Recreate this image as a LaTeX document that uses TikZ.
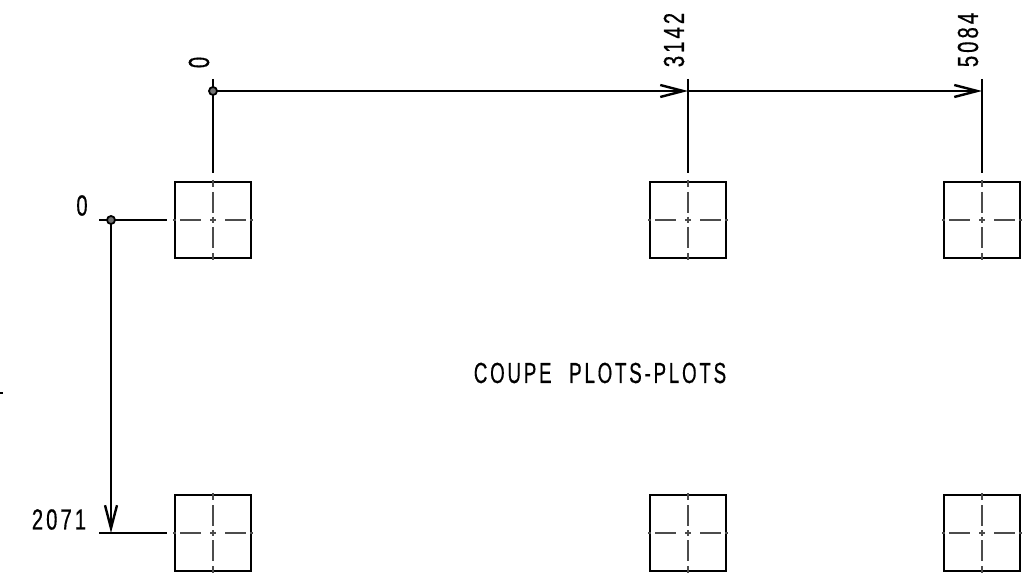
\documentclass[tikz,border=0pt]{standalone}
\usepackage{fontspec}
\setmainfont[LetterSpace=15,WordSpace=2.2,FakeBold=0.6]{Liberation Sans}
\usetikzlibrary{arrows.meta}
\tikzset{
  x=1pt,y=-1pt,
  plot/.style={draw=black,line width=2.4pt,minimum size=76pt,inner sep=0pt,outer sep=0pt},
  axisline/.style={draw=black!70,line width=1.1pt},
  axish/.style={axisline,dash pattern=on 3pt off 4pt on 21pt off 9pt on 6pt off 9pt on 21pt off 4pt on 3pt},
  axisv/.style={axisline,dash pattern=on 7pt off 5pt on 21pt off 4pt on 6pt off 4pt on 21pt off 5pt on 7pt},
  extline/.style={draw=black,line width=2.4pt},
  dimline/.style={draw=black,line width=2.4pt,-{Straight Barb[length=23pt,width=12pt,line width=2.4pt]}},
  origin/.style={circle,draw=black,fill=black!55,line width=1.8pt,minimum size=8pt,inner sep=0pt,outer sep=0pt},
  lbl/.style={inner sep=0pt,font=\fontsize{29pt}{29pt}\selectfont},
}
\newcommand{\nar}[1]{\scalebox{0.70}[1]{#1}}
\begin{document}
\begin{tikzpicture}
\useasboundingbox (0,0) rectangle (1033,585);
% plots
\foreach \n/\cx/\cy in {a/213/220,b/688/220,c/982/220,d/213/533,e/688/533,f/982/533}{
  \node[plot] (\n) at (\cx,\cy) {};
  \draw[axish] (\cx-40,\cy) -- (\cx+40,\cy);
  \draw[axisv] (\cx,\cy-40) -- (\cx,\cy+40);
}
% free ends
\coordinate (t1) at (213,79);
\coordinate (t2) at (688,79);
\coordinate (t3) at (982,79);
\coordinate (b1) at (213,173);
\coordinate (b2) at (688,173);
\coordinate (b3) at (982,173);
\coordinate (l1) at (99,220);
\coordinate (r1) at (167,220);
\coordinate (l2) at (99,533);
\coordinate (r2) at (167,533);
\coordinate (hd2) at (688,91);
\coordinate (hd3) at (982,91);
\coordinate (vd2) at (111,533);
% extension lines
\draw[extline] (t1) -- (b1);
\draw[extline] (t2) -- (b2);
\draw[extline] (t3) -- (b3);
\draw[extline] (l1) -- (r1);
\draw[extline] (l2) -- (r2);
% origins
\node[origin] (oh) at (213,91) {};
\node[origin] (ov) at (111,220) {};
% dimension lines
\draw[dimline] (oh) -- (hd2);
\draw[dimline] (hd2) -- (hd3);
\draw[dimline] (ov) -- (vd2);
% labels
\node[lbl,rotate=90] (t0) at (199,62.5) {\nar{0}};
\node[lbl,rotate=90] (t3142) at (674,40) {\nar{3142}};
\node[lbl,rotate=90] (t5084) at (968,40) {\nar{5084}};
\node[lbl] (l0) at (82,205.5) {\nar{0}};
\node[lbl] (l2071) at (59,519.5) {\nar{2071}};
\node[lbl] (title) at (600,373) {\scalebox{0.645}[1]{COUPE PLOTS-PLOTS}};
% stray tick at the left edge
\coordinate (s1) at (0,393);
\coordinate (s2) at (3,393);
\draw[line width=1.5pt] (s1) -- (s2);
\end{tikzpicture}
\end{document}
